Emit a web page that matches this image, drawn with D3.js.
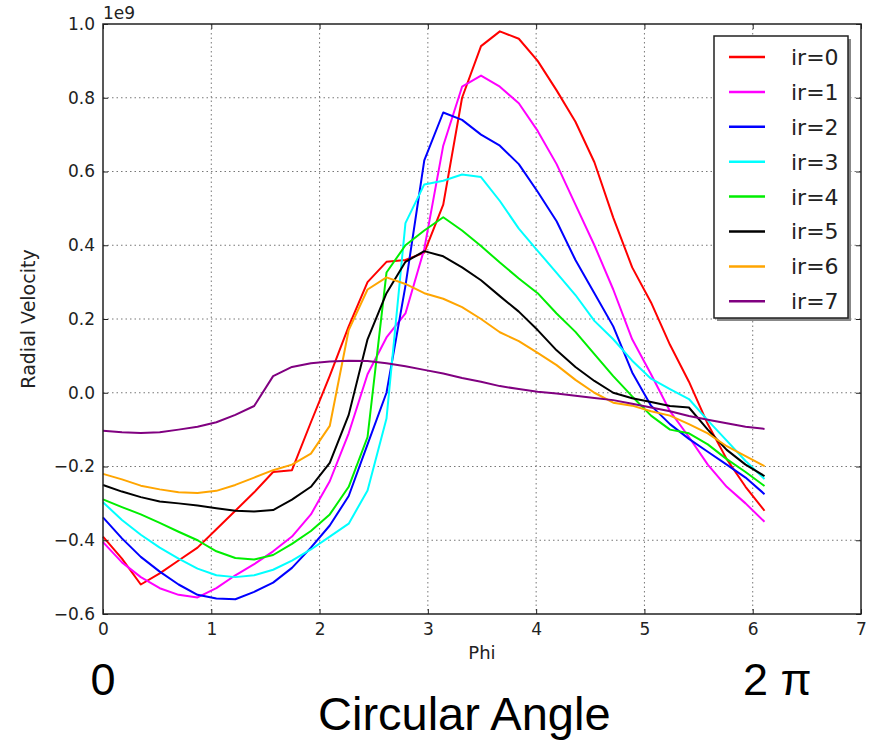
<!DOCTYPE html>
<html>
  <head>
    <meta charset="utf-8">
    <title>Radial Velocity vs Phi</title>
    <script src="https://d3js.org/d3.v7.min.js"></script>
    <style>
      body { margin: 0; background: #fff; }
      text { font-family: "DejaVu Sans", sans-serif; fill: #222; }
      .grid line { stroke: #777; stroke-width: 1; stroke-dasharray: 1.5,3; }
      .tick line { stroke: #222; }
      .big { font-family: "Liberation Sans", Arial, sans-serif; fill: #000; font-size: 45px; }
    </style>
  </head>
  <body>
    <div id="my_dataviz"></div>
    <script>

      // phi sample points (10 degree steps, 0 .. 350 deg)
      var phi = [0, 0.175, 0.349, 0.524, 0.698, 0.873, 1.047, 1.222, 1.396, 1.571, 1.745, 1.92,
                 2.094, 2.269, 2.443, 2.618, 2.793, 2.967, 3.142, 3.316, 3.491, 3.665, 3.84, 4.014,
                 4.189, 4.363, 4.538, 4.712, 4.887, 5.061, 5.236, 5.411, 5.585, 5.76, 5.934, 6.109];

      // radial velocity, units of 1e9
      var ir0 = [-0.39, -0.45, -0.52, -0.49, -0.455, -0.42, -0.37, -0.32, -0.27, -0.215, -0.21, -0.08,
                 0.046, 0.18, 0.30, 0.355, 0.36, 0.38, 0.51, 0.80, 0.94, 0.98, 0.96, 0.90,
                 0.82, 0.735, 0.625, 0.475, 0.34, 0.245, 0.13, 0.03, -0.085, -0.18, -0.255, -0.32];
      var ir1 = [-0.405, -0.46, -0.50, -0.53, -0.548, -0.555, -0.53, -0.495, -0.465, -0.43, -0.39, -0.33,
                 -0.24, -0.11, 0.05, 0.15, 0.215, 0.39, 0.67, 0.83, 0.86, 0.83, 0.785, 0.71,
                 0.62, 0.51, 0.40, 0.28, 0.145, 0.05, -0.05, -0.12, -0.195, -0.255, -0.30, -0.35];
      var ir2 = [-0.338, -0.395, -0.445, -0.485, -0.52, -0.548, -0.558, -0.56, -0.54, -0.515, -0.475, -0.42,
                 -0.36, -0.28, -0.14, 0.0, 0.29, 0.63, 0.76, 0.74, 0.70, 0.67, 0.62, 0.545,
                 0.465, 0.36, 0.27, 0.18, 0.055, -0.035, -0.085, -0.125, -0.16, -0.195, -0.23, -0.275];
      var ir3 = [-0.297, -0.345, -0.385, -0.42, -0.45, -0.477, -0.495, -0.50, -0.495, -0.48, -0.455, -0.425,
                 -0.39, -0.355, -0.265, -0.07, 0.46, 0.565, 0.575, 0.592, 0.585, 0.52, 0.445, 0.385,
                 0.325, 0.265, 0.195, 0.145, 0.087, 0.038, 0.01, -0.017, -0.075, -0.13, -0.185, -0.234];
      var ir4 = [-0.289, -0.31, -0.33, -0.353, -0.377, -0.40, -0.43, -0.448, -0.452, -0.44, -0.41, -0.375,
                 -0.33, -0.255, -0.12, 0.326, 0.40, 0.44, 0.476, 0.44, 0.398, 0.353, 0.31, 0.27,
                 0.215, 0.165, 0.105, 0.045, -0.01, -0.062, -0.10, -0.11, -0.14, -0.18, -0.215, -0.253];
      var ir5 = [-0.25, -0.268, -0.283, -0.295, -0.30, -0.306, -0.313, -0.32, -0.322, -0.318, -0.29, -0.255,
                 -0.19, -0.06, 0.145, 0.27, 0.355, 0.384, 0.37, 0.34, 0.305, 0.262, 0.22, 0.17,
                 0.115, 0.07, 0.032, 0.0, -0.015, -0.025, -0.036, -0.04, -0.1, -0.155, -0.195, -0.226];
      var ir6 = [-0.22, -0.235, -0.252, -0.262, -0.27, -0.272, -0.266, -0.25, -0.23, -0.21, -0.195, -0.165,
                 -0.09, 0.17, 0.28, 0.313, 0.295, 0.27, 0.255, 0.232, 0.20, 0.164, 0.14, 0.108,
                 0.075, 0.035, 0.0, -0.027, -0.035, -0.05, -0.062, -0.085, -0.11, -0.145, -0.172, -0.199];
      var ir7 = [-0.103, -0.107, -0.109, -0.107, -0.10, -0.092, -0.08, -0.06, -0.036, 0.045, 0.07, 0.08,
                 0.085, 0.087, 0.086, 0.08, 0.072, 0.062, 0.052, 0.04, 0.03, 0.018, 0.01, 0.003,
                 -0.002, -0.008, -0.014, -0.02, -0.03, -0.04, -0.05, -0.063, -0.073, -0.083, -0.092, -0.098];

      var seriesNames = ["ir=0", "ir=1", "ir=2", "ir=3", "ir=4", "ir=5", "ir=6", "ir=7"];
      var seriesValues = [ir0, ir1, ir2, ir3, ir4, ir5, ir6, ir7];
      var seriesColors = ["#ff0000", "#ff00ff", "#0000ff", "#00ffff", "#00ee00", "#000000", "#ffa500", "#800080"];

      var xTicks = [0, 1, 2, 3, 4, 5, 6, 7];
      var yTicks = [-0.6, -0.4, -0.2, 0.0, 0.2, 0.4, 0.6, 0.8, 1.0];

      // set the dimensions and margins of the graph
      var margin = {top: 24, right: 13, bottom: 127, left: 103},
          width = 874 - margin.left - margin.right,
          height = 741 - margin.top - margin.bottom;

      var root = d3.select("#my_dataviz")
        .append("svg")
          .attr("width", 874)
          .attr("height", 741);

      var svg = root.append("g")
          .attr("transform", "translate(" + margin.left + "," + margin.top + ")");

      var x = d3.scaleLinear().domain([0, 7]).range([0, width]);
      var y = d3.scaleLinear().domain([-0.6, 1.0]).range([height, 0]);

      // dotted grid
      var grid = svg.append("g").attr("class", "grid");
      grid.selectAll(".gx")
        .data(xTicks.slice(1, -1))
        .enter().append("line")
          .attr("x1", function(d) { return x(d); })
          .attr("x2", function(d) { return x(d); })
          .attr("y1", 0).attr("y2", height);
      grid.selectAll(".gy")
        .data(yTicks.slice(1, -1))
        .enter().append("line")
          .attr("y1", function(d) { return y(d); })
          .attr("y2", function(d) { return y(d); })
          .attr("x1", 0).attr("x2", width);

      // series lines
      var line = d3.line()
        .x(function(d, i) { return x(phi[i]); })
        .y(function(d) { return y(d); });

      svg.selectAll(".series")
        .data(seriesValues)
        .enter().append("path")
          .attr("class", "series")
          .attr("fill", "none")
          .attr("stroke", function(d, i) { return seriesColors[i]; })
          .attr("stroke-width", 2)
          .attr("stroke-linejoin", "round")
          .attr("d", line);

      // axes, ticks pointing inward like old matplotlib
      var xAxis = svg.append("g")
        .attr("transform", "translate(0," + height + ")")
        .call(d3.axisBottom(x).tickValues(xTicks).tickFormat(d3.format("d"))
          .tickSizeInner(-5).tickSizeOuter(0).tickPadding(9));
      var yAxis = svg.append("g")
        .call(d3.axisLeft(y).tickValues(yTicks).tickFormat(d3.format(".1f"))
          .tickSizeInner(-5).tickSizeOuter(0).tickPadding(8));
      svg.append("g")
        .call(d3.axisTop(x).tickValues(xTicks).tickFormat("").tickSizeInner(-5).tickSizeOuter(0));
      svg.append("g")
        .attr("transform", "translate(" + width + ",0)")
        .call(d3.axisRight(y).tickValues(yTicks).tickFormat("").tickSizeInner(-5).tickSizeOuter(0));

      svg.selectAll(".domain").remove();
      svg.selectAll(".tick text").attr("font-size", 17).style("font-family", "DejaVu Sans").attr("fill", "#222");

      // frame
      svg.append("rect")
        .attr("width", width).attr("height", height)
        .attr("fill", "none").attr("stroke", "#222").attr("stroke-width", 1.5);

      // offset text and axis labels
      svg.append("text").attr("x", 0).attr("y", -5).attr("font-size", 17).text("1e9");
      svg.append("text")
        .attr("x", x(3.5)).attr("y", height + 45)
        .attr("text-anchor", "middle").attr("font-size", 18).text("Phi");
      root.append("text")
        .attr("transform", "translate(35," + (margin.top + y(0.2)) + ") rotate(-90)")
        .attr("text-anchor", "middle").attr("font-size", 19).text("Radial Velocity");

      // legend with shadow
      var legend = root.append("g").attr("transform", "translate(714,36)");
      legend.append("rect")
        .attr("x", 3).attr("y", 3).attr("width", 134).attr("height", 282).attr("fill", "#888");
      legend.append("rect")
        .attr("width", 134).attr("height", 282)
        .attr("fill", "#fff").attr("stroke", "#222").attr("stroke-width", 1.5);
      var rows = legend.selectAll(".row")
        .data(seriesNames)
        .enter().append("g")
          .attr("transform", function(d, i) { return "translate(0," + (21 + i * 34.9) + ")"; });
      rows.append("line")
        .attr("x1", 15).attr("x2", 51)
        .attr("stroke", function(d, i) { return seriesColors[i]; })
        .attr("stroke-width", 2.5);
      rows.append("text")
        .attr("x", 77).attr("dy", "0.36em").attr("font-size", 22)
        .text(function(d) { return d; });

      // annotations under the chart
      root.append("text").attr("class", "big")
        .attr("x", margin.left).attr("y", 695).attr("text-anchor", "middle").text("0");
      root.append("text").attr("class", "big")
        .attr("x", 743).attr("y", 695).text("2 \u03c0");
      root.append("text").attr("class", "big")
        .attr("x", 318).attr("y", 730).style("font-size", "47px").text("Circular Angle");

    </script>
  </body>
</html>
